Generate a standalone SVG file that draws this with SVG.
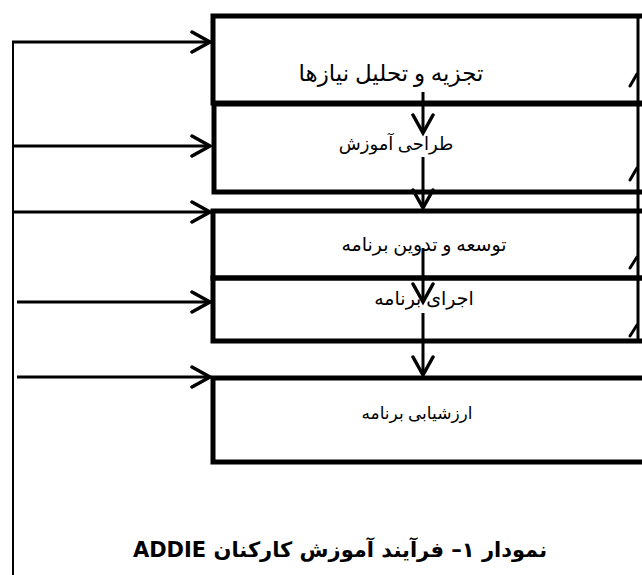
<svg xmlns="http://www.w3.org/2000/svg" width="642" height="575" viewBox="0 0 642 575">
<style>
.box{fill:none;stroke:#000;stroke-width:5}
.conn{fill:none;stroke:#000;stroke-width:3}
.lbl{font-family:"Liberation Serif","DejaVu Serif","DejaVu Sans",serif;fill:#000;text-anchor:middle;direction:rtl}
.title{font-family:"DejaVu Sans","Liberation Sans",sans-serif;font-weight:bold;font-size:21px;fill:#000;text-anchor:middle;direction:rtl}
</style>
<defs>
<marker id="ah" viewBox="-22 -12 26 24" refX="0" refY="0" markerWidth="26" markerHeight="24" markerUnits="userSpaceOnUse" orient="auto">
<path d="M-18,-10 L0,0 L-18,10" fill="none" stroke="#000" stroke-width="3.5" stroke-linecap="round" stroke-linejoin="miter"/>
</marker>
</defs>
<rect width="642" height="575" fill="#fff"/>
<g id="n1"><rect class="box" x="213" y="16" width="440" height="87"/><text class="lbl" x="391" y="81" font-size="23">تجزیه و تحلیل نیازها</text></g>
<g id="n2"><rect class="box" x="214" y="104" width="440" height="88"/><text class="lbl" x="396" y="150" font-size="18">طراحی آموزش</text></g>
<g id="n3"><rect class="box" x="213" y="211" width="440" height="67"/><text class="lbl" x="424" y="251" font-size="19">توسعه و تدوین برنامه</text></g>
<g id="n4"><rect class="box" x="213" y="278" width="440" height="63"/><text class="lbl" x="424" y="305" font-size="19">اجرای برنامه</text></g>
<g id="n5"><rect class="box" x="213" y="378" width="440" height="84"/><text class="lbl" x="417" y="419" font-size="17">ارزشیابی برنامه</text></g>
<g id="connectors">
<line x1="13" y1="42" x2="13" y2="575" stroke="#000" stroke-width="2"/>
<line class="conn" x1="12" y1="42" x2="210" y2="42" marker-end="url(#ah)"/>
<line class="conn" x1="12" y1="146" x2="210" y2="146" marker-end="url(#ah)"/>
<line class="conn" x1="12" y1="212" x2="210" y2="212" marker-end="url(#ah)"/>
<line class="conn" x1="17" y1="302" x2="210" y2="302" marker-end="url(#ah)"/>
<line class="conn" x1="17" y1="377" x2="210" y2="377" marker-end="url(#ah)"/>
<line class="conn" stroke-width="3.5" x1="423" y1="92" x2="423" y2="133" marker-end="url(#ah)"/>
<line class="conn" stroke-width="3.5" x1="423" y1="157" x2="423" y2="208" marker-end="url(#ah)"/>
<line class="conn" stroke-width="3.5" x1="423" y1="248" x2="423" y2="302" marker-end="url(#ah)"/>
<line class="conn" stroke-width="3.5" x1="423" y1="313" x2="423" y2="375" marker-end="url(#ah)"/>
<line class="conn" x1="638" y1="14" x2="638" y2="343" stroke-width="4"/>
<line class="conn" x1="630" y1="86" x2="637" y2="74" stroke-linecap="round"/>
<line class="conn" x1="630" y1="180" x2="637" y2="168" stroke-linecap="round"/>
<line class="conn" x1="630" y1="268" x2="637" y2="257" stroke-linecap="round"/>
<line class="conn" x1="630" y1="336" x2="637" y2="325" stroke-linecap="round"/>
</g>
<text class="title" x="340" y="557">نمودار ۱– فرآیند آموزش کارکنان ADDIE</text>
</svg>
